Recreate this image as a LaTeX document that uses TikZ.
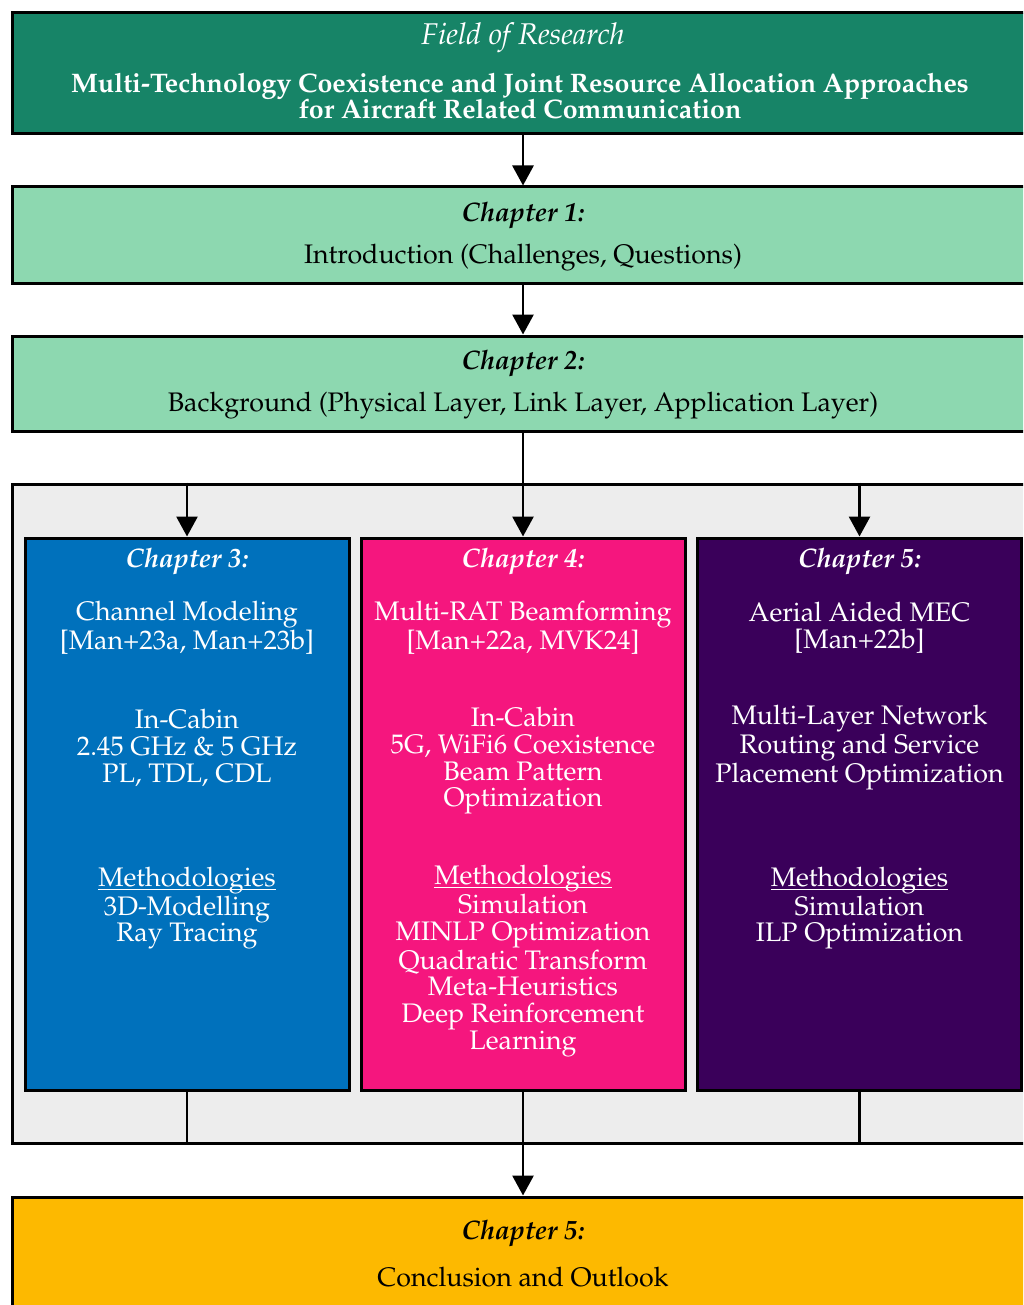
\documentclass[tikz,border=0pt]{standalone}
\usepackage[T1]{fontenc}
\usepackage{mathpazo}
\usetikzlibrary{arrows.meta}
\definecolor{topgreen}{HTML}{178467}
\definecolor{lightgreen}{HTML}{8DD8B0}
\definecolor{chblue}{HTML}{0071BC}
\definecolor{chpink}{HTML}{F5167E}
\definecolor{chpurple}{HTML}{3A005A}
\definecolor{chgold}{HTML}{FDB900}
\definecolor{contgray}{HTML}{EDEDED}
\newcommand\myfs{\fontsize{13.4}{13.35}\selectfont}
\newcommand\methhead{\sbox0{Methodologies}\rlap{\rule[-1.7pt]{\wd0}{0.5pt}}\usebox0}
\begin{document}
\begin{tikzpicture}[x=0.5pt,y=-0.5pt,
  bigbox/.style={draw=black, line width=1.5pt, inner sep=0pt, minimum width=511pt},
  colbox/.style={draw=black, line width=1.5pt, inner sep=0pt, minimum width=162pt, minimum height=276pt},
  txt/.style={inner sep=0pt, align=center, font=\myfs},
  arr/.style={line width=1.4pt, -{Triangle[length=10pt,width=10.5pt]}},
  ln/.style={line width=1.4pt}]
\useasboundingbox (0,0) rectangle (1023,1305);
\clip (0,0) rectangle (1023,1305);

% main boxes
\node[bigbox, fill=topgreen, minimum height=60.5pt] (top) at (523,73.5) {};
\node[bigbox, fill=lightgreen, minimum height=48pt] (ch1) at (523,235) {};
\node[bigbox, fill=lightgreen, minimum height=47.5pt] (ch2) at (523,383.5) {};
\node[bigbox, fill=contgray, minimum height=329.5pt] (cont) at (523,813.5) {};
\node[colbox, fill=chblue] (c3) at (187,814) {};
\node[colbox, fill=chpink] (c4) at (523,814) {};
\node[colbox, fill=chpurple] (c5) at (859.5,814) {};
\node[bigbox, fill=chgold, minimum height=56.5pt] (concl) at (523,1253.5) {};

% texts
\node[txt, text=white, font=\fontsize{15}{16}\selectfont] (t0a) at (523,38) {\itshape Field of Research};
\node[txt, text=white] (t0b) at (520,96) {\bfseries Multi-Technology Coexistence and Joint Resource Allocation Approaches\\\bfseries for Aircraft Related Communication};
\node[txt] (t1a) at (523,216) {\bfseries\itshape Chapter 1:};
\node[txt] (t1b) at (523,258) {Introduction (Challenges, Questions)};
\node[txt] (t2a) at (523,364) {\bfseries\itshape Chapter 2:};
\node[txt] (t2b) at (523,406) {Background (Physical Layer, Link Layer, Application Layer)};

\node[txt, text=white] (t3a) at (187,562) {\bfseries\itshape Chapter 3:};
\node[txt, text=white] (t3b) at (187,628) {Channel Modeling\\{[}Man+23a, Man+23b{]}};
\node[txt, text=white] (t3c) at (187,748) {In-Cabin\\2.45 GHz \& 5 GHz\\PL, TDL, CDL};
\node[txt, text=white] (t3d) at (187,908) {\methhead\\3D-Modelling\\Ray Tracing};

\node[txt, text=white] (t4a) at (523,562) {\bfseries\itshape Chapter 4:};
\node[txt, text=white] (t4b) at (523,628) {Multi-RAT Beamforming\\{[}Man+22a, MVK24{]}};
\node[txt, text=white] (t4c) at (523,761) {In-Cabin\\5G, WiFi6 Coexistence\\Beam Pattern\\Optimization};
\node[txt, text=white] (t4d) at (523,961) {\methhead\\Simulation\\MINLP Optimization\\Quadratic Transform\\Meta-Heuristics\\Deep Reinforcement\\Learning};

\node[txt, text=white] (t5a) at (859.5,562) {\bfseries\itshape Chapter 5:};
\node[txt, text=white] (t5b) at (859.5,628) {Aerial Aided MEC\\{[}Man+22b{]}};
\node[txt, text=white] (t5c) at (859.5,748) {Multi-Layer Network\\Routing and Service\\Placement Optimization};
\node[txt, text=white] (t5d) at (859.5,908) {\methhead\\Simulation\\ILP Optimization};

\node[txt] (t6a) at (523,1234) {\bfseries\itshape Chapter 5:};
\node[txt] (t6b) at (523,1277) {Conclusion and Outlook};

% connectors
\draw[arr] (top.south) -- (ch1.north);
\draw[arr] (ch1.south) -- (ch2.north);
\draw[arr] (ch2.south) -- (c4.north);
\draw[arr] (c3.north |- cont.north) -- (c3.north);
\draw[arr] (c5.north |- cont.north) -- (c5.north);
\draw[ln] (c3.south) -- (c3.south |- cont.south);
\draw[ln] (c5.south) -- (c5.south |- cont.south);
\draw[arr] (c4.south) -- (concl.north);
\end{tikzpicture}
\end{document}
